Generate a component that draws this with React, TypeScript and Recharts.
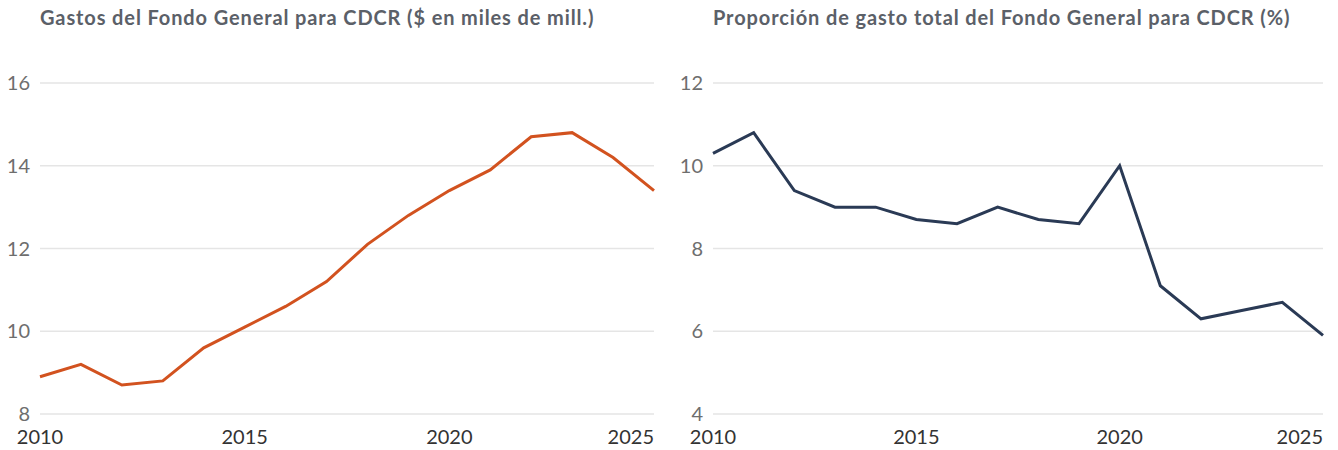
import { LineChart, Line, XAxis, YAxis, CartesianGrid } from "recharts";

const years = [2010, 2011, 2012, 2013, 2014, 2015, 2016, 2017, 2018, 2019, 2020, 2021, 2022, 2023, 2024, 2025];
const spending = [8.9, 9.2, 8.7, 8.8, 9.6, 10.1, 10.6, 11.2, 12.1, 12.8, 13.4, 13.9, 14.7, 14.8, 14.2, 13.4];
const share = [10.3, 10.8, 9.4, 9.0, 9.0, 8.7, 8.6, 9.0, 8.7, 8.6, 10.0, 7.1, 6.3, 6.5, 6.7, 5.9];
const xTicks = [2010, 2015, 2020, 2025];
const spendingTicks = [8, 10, 12, 14, 16];
const shareTicks = [4, 6, 8, 10, 12];

const FONT = "Lato, 'Open Sans', sans-serif";

const spendingData = years.map((year, i) => ({ year, value: spending[i] }));
const shareData = years.map((year, i) => ({ year, value: share[i] }));

const XTick = ({ x, y, payload }: any) => {
  const last = payload.value === 2025;
  return (
    <text x={last ? x + 1 : x} y={y} dy={22} textAnchor={last ? "end" : "middle"} fill="#333" fontSize={20} fontFamily={FONT}>
      {payload.value}
    </text>
  );
};

const YTick = ({ x, y, payload }: any) => (
  <text x={x - 2} y={y} dy={7} textAnchor="end" fill="#6e6e6e" fontSize={20} fontFamily={FONT}>
    {payload.value}
  </text>
);

function Panel({ title, data, ticks, color, yWidth }: { title: string; data: any[]; ticks: number[]; color: string; yWidth: number }) {
  return (
    <div style={{ position: "relative", width: 669, height: 450 }}>
      <div
        style={{
          position: "absolute",
          left: yWidth,
          top: 5,
          fontFamily: FONT,
          fontWeight: 700,
          fontSize: 20,
          letterSpacing: 0.88,
          color: "#5b6068",
          whiteSpace: "nowrap",
        }}
      >
        {title}
      </div>
      <LineChart width={669} height={450} data={data} margin={{ top: 83, right: 669 - 654, bottom: 0, left: 0 }}>
        <CartesianGrid vertical={false} stroke="#e5e5e5" strokeWidth={1.5} />
        <XAxis
          dataKey="year"
          type="number"
          domain={[2010, 2025]}
          ticks={xTicks}
          axisLine={false}
          tickLine={false}
          height={36}
          tick={<XTick />}
        />
        <YAxis
          type="number"
          domain={[ticks[0], ticks[ticks.length - 1]]}
          ticks={ticks}
          axisLine={false}
          tickLine={false}
          width={yWidth}
          tick={<YTick />}
        />
        <Line type="linear" dataKey="value" stroke={color} strokeWidth={3} dot={false} isAnimationActive={false} />
      </LineChart>
    </div>
  );
}

export default function App() {
  return (
    <div style={{ position: "fixed", left: 0, top: 0, width: 1338, height: 450, background: "#fff", display: "flex" }}>
      <Panel
        title="Gastos del Fondo General para CDCR ($ en miles de mill.)"
        data={spendingData}
        ticks={spendingTicks}
        color="#d2521f"
        yWidth={40}
      />
      <Panel
        title="Proporción de gasto total del Fondo General para CDCR (%)"
        data={shareData}
        ticks={shareTicks}
        color="#2a3a55"
        yWidth={44}
      />
    </div>
  );
}
